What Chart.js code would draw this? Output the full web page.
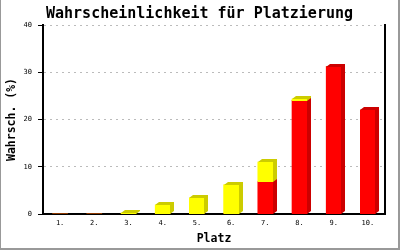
<html>
<head>
  <script src="https://cdn.jsdelivr.net/npm/chart.js"></script>
  <style>
    body { margin: 0; background: #fff; }
  </style>
  <script>
    const places = ['1.', '2.', '3.', '4.', '5.', '6.', '7.', '8.', '9.', '10.'];
    const redValues = [0, 0, 0, 0, 0, 0, 6.8, 24.0, 31.2, 22.0];
    const yellowValues = [0, 0, 0.2, 1.9, 3.4, 6.2, 4.2, 0.35, 0, 0];
    const yTicks = [0, 10, 20, 30, 40];

    const mono = 'DejaVu Sans Mono';
    const depthX = 4, depthY = 3;

    // draws each bar again with a darker top and right side
    const bars3d = {
      id: 'bars3d',
      afterDatasetsDraw(chart) {
        const ctx = chart.ctx;
        chart.data.datasets.forEach((ds, i) => {
          const meta = chart.getDatasetMeta(i);
          meta.data.forEach((bar, j) => {
            if (!ds.data[j]) return;
            const p = bar.getProps(['x', 'y', 'base', 'width'], true);
            const l = Math.round(p.x - p.width / 2);
            const r = Math.round(p.x + p.width / 2);
            const t = Math.round(p.y);
            const b = Math.round(p.base);
            ctx.save();
            ctx.fillStyle = ds.backgroundColor;
            ctx.fillRect(l, t, r - l, Math.max(b - t, 1));
            ctx.fillStyle = ds.sideColor;
            ctx.beginPath();
            ctx.moveTo(l, t);
            ctx.lineTo(l + depthX, t - depthY);
            ctx.lineTo(r + depthX, t - depthY);
            ctx.lineTo(r + depthX, b - depthY);
            ctx.lineTo(r, b);
            ctx.lineTo(r, t);
            ctx.closePath();
            ctx.fill();
            ctx.restore();
          });
        });
      },
      afterDraw(chart) {
        const ctx = chart.ctx;
        ctx.save();
        ctx.fillStyle = '#999';
        ctx.fillRect(0, 0, 1, 250);
        ctx.fillRect(398, 0, 2, 250);
        ctx.fillRect(0, 248, 400, 2);
        ctx.restore();
      }
    };

    function draw() {
      new Chart(document.getElementById('chart'), {
        type: 'bar',
        data: {
          labels: places,
          datasets: [{
            data: redValues,
            backgroundColor: '#ff0000',
            sideColor: '#cc0000',
            barThickness: 15
          }, {
            data: yellowValues,
            backgroundColor: '#ffff00',
            sideColor: '#cccc00',
            barThickness: 15
          }]
        },
        options: {
          responsive: false,
          animation: false,
          layout: { padding: { left: 7, right: 8, top: 0, bottom: 0 } },
          plugins: {
            legend: { display: false },
            tooltip: { enabled: false },
            title: {
              display: true,
              text: 'Wahrscheinlichkeit für Platzierung',
              color: '#000',
              font: { family: mono, size: 15, weight: 'bold', lineHeight: 1 },
              padding: { top: 7, bottom: 3 }
            }
          },
          scales: {
            x: {
              stacked: true,
              grid: { display: false, drawTicks: false },
              border: { color: '#000', width: 2 },
              ticks: { color: '#000', padding: 5, font: { family: mono, size: 7 } },
              title: {
                display: true,
                text: 'Platz',
                color: '#000',
                font: { family: mono, size: 11.5, weight: 'bold' },
                padding: { top: 0, bottom: 4 }
              },
              afterFit: s => { s.height = 36; }
            },
            y: {
              stacked: true,
              min: 0,
              max: 40,
              afterBuildTicks: s => { s.ticks = yTicks.map(v => ({ value: v })); },
              grid: {
                color: c => c.tick && c.tick.value === 0 ? 'rgba(0,0,0,0)' : '#bbb',
                tickColor: '#000',
                tickLength: 5,
                lineWidth: 1
              },
              border: { color: '#000', width: 2, dash: [2, 4] },
              ticks: { color: '#000', padding: 6, font: { family: mono, size: 7 } },
              title: {
                display: true,
                text: 'Wahrsch. (%)',
                color: '#000',
                font: { family: mono, size: 11.5, weight: 'bold', lineHeight: 0.87 },
                padding: { top: 0, bottom: 0 }
              },
              afterFit: s => { s.width = 36; }
            },
            y2: {
              position: 'right',
              min: 0,
              max: 40,
              grid: { drawOnChartArea: false, drawTicks: false },
              border: { color: '#000', width: 2 },
              ticks: { display: false },
              afterFit: s => { s.width = 7; }
            }
          }
        },
        plugins: [bars3d]
      });
    }
  </script>
</head>
<body onload="draw()">
<canvas id="chart" width="400" height="250"></canvas>
</body>
</html>
